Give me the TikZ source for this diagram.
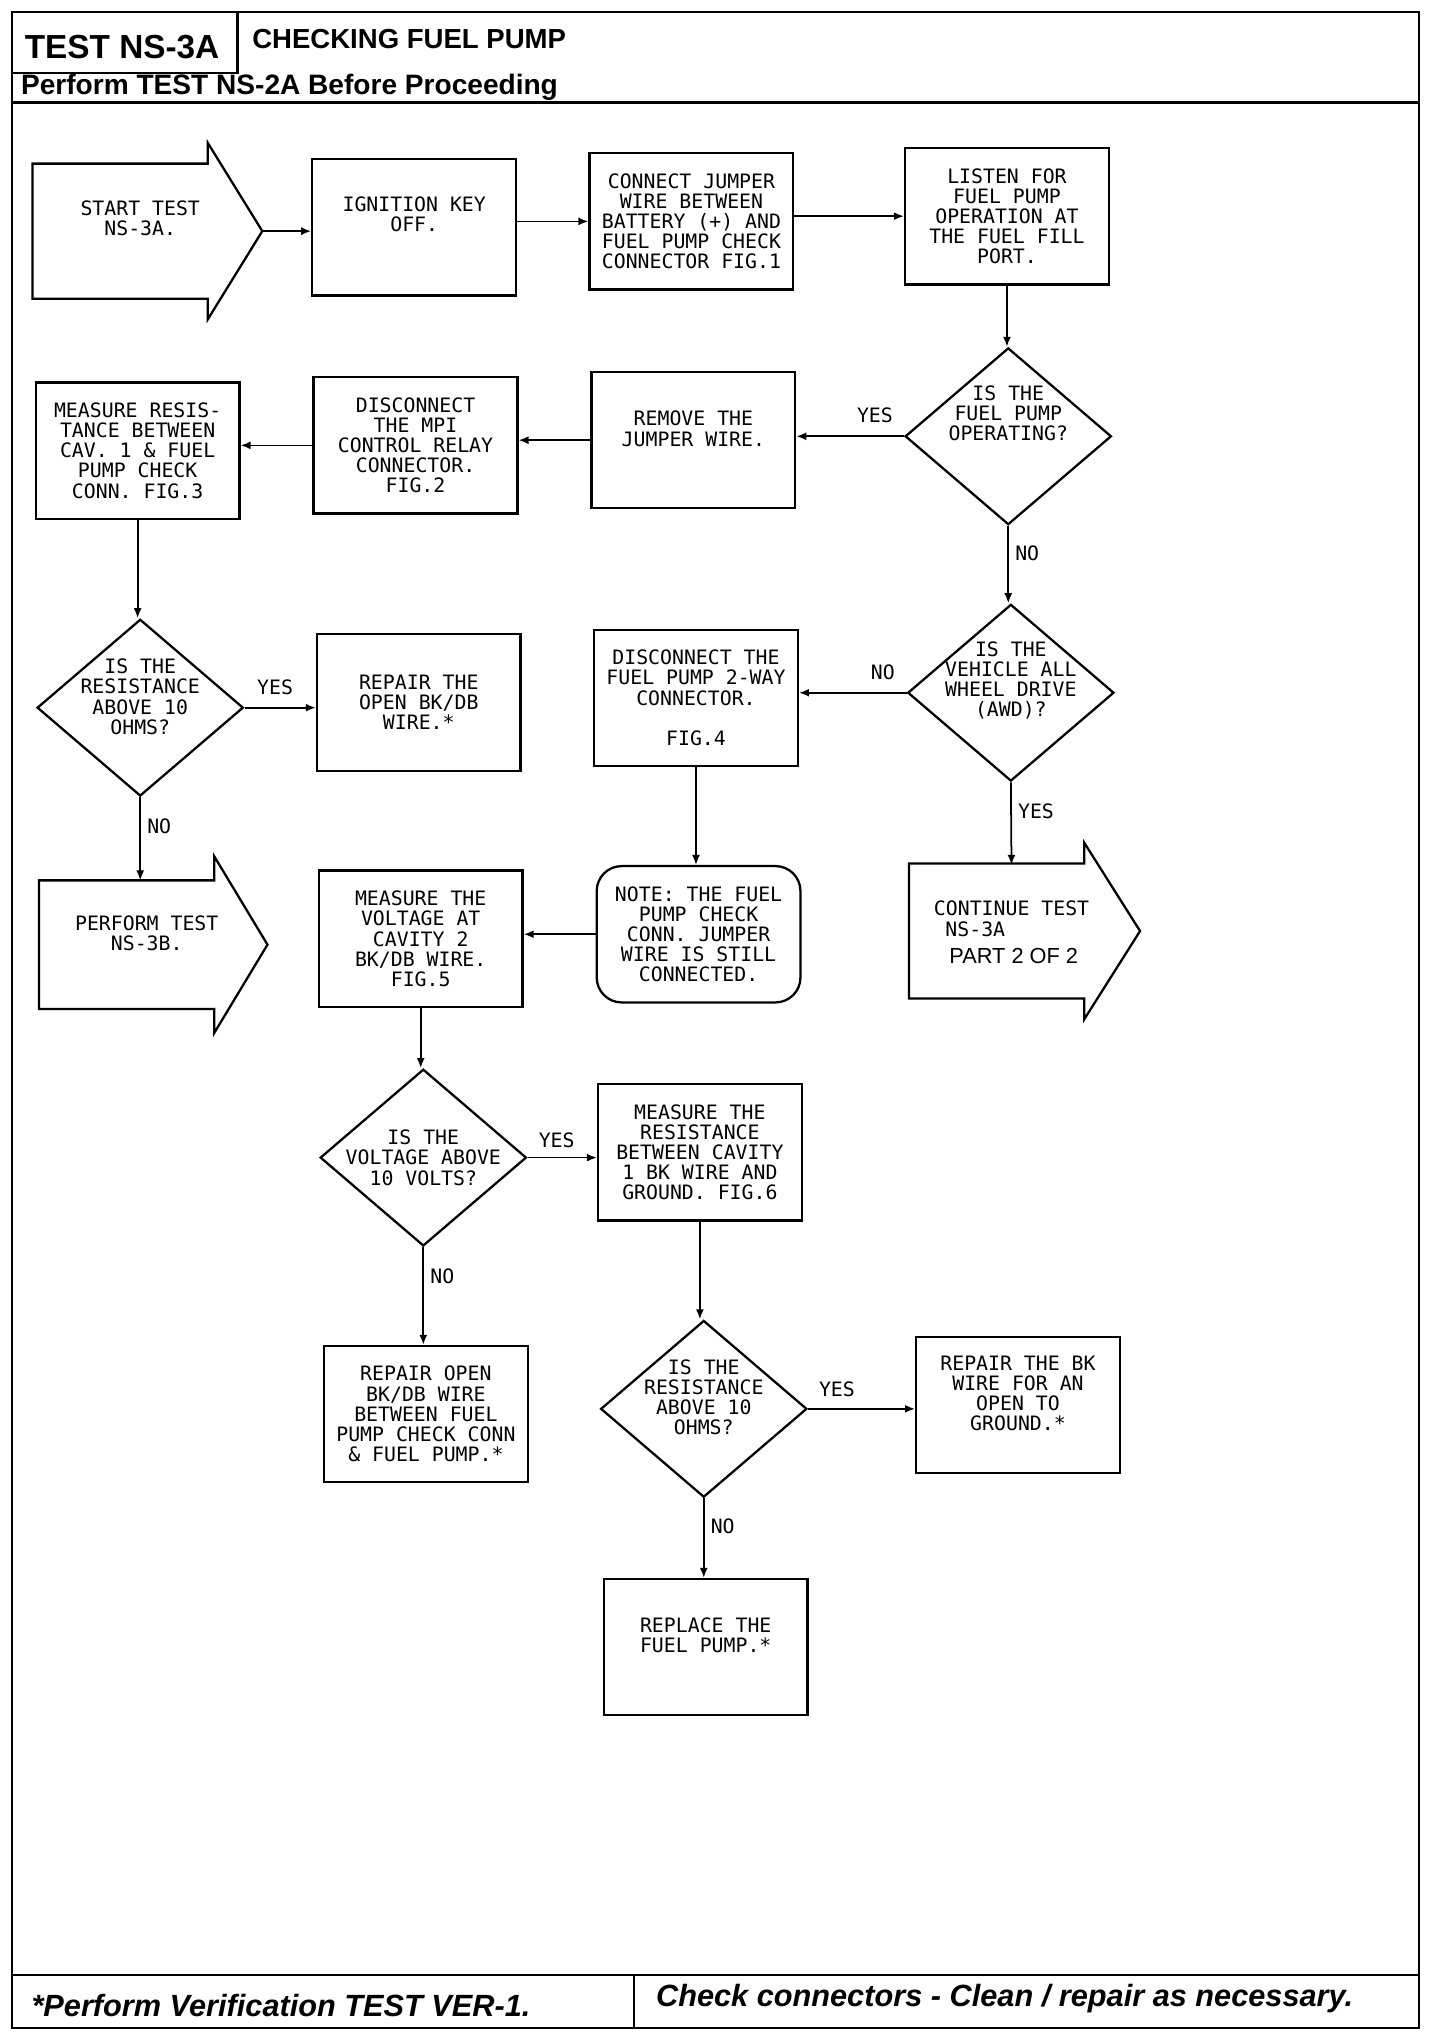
\documentclass[tikz,border=0pt]{standalone}
\usepackage{fontspec}
\setmainfont{Liberation Sans}
\newfontfamily\plotfont{DejaVu Sans Mono}
\usetikzlibrary{positioning,shapes.geometric,arrows.meta}

\begin{document}
\begin{tikzpicture}[
  x=0.026cm, y=-0.026cm,
  font=\plotfont\fontsize{11.3}{11.5}\selectfont,
  box/.style={draw,line width=1.3pt,minimum width=4.08cm,minimum height=2.73cm,align=center,inner sep=2pt},
  note/.style={box,rounded corners=0.5cm},
  decision/.style={draw,diamond,line width=1.3pt,minimum width=4.13cm,minimum height=3.54cm,inner sep=0pt},
  dtext/.style={align=center,inner sep=0pt},
  outline/.style={draw,line width=1.3pt,line join=miter},
  lbl/.style={inner sep=2pt},
  flow/.style={-{Latex[length=2mm,width=1.6mm]},line width=1pt},
  frame/.style={line width=1.3pt},
  head/.style={inner sep=0pt,font=\rmfamily\bfseries\fontsize{#1}{#1}\selectfont},
  foot/.style={inner sep=0pt,font=\rmfamily\bfseries\itshape\fontsize{17.5}{18}\selectfont}
]
\useasboundingbox (0,0) rectangle (1121,1568);

% page frame
\draw[frame] (9,9) rectangle (1093,1562);
\draw[frame] (9,56) -| (183,9);
\draw[frame] (9,79) -- (1093,79);
\draw[frame] (9,1521) -- (1093,1521);
\draw[frame] (488,1521) -- (488,1562);
\node[head=19,anchor=base] (testid) at (94,45) {TEST NS-3A};
\node[head=15.7,anchor=base west] (title) at (194,37.5) {CHECKING FUEL PUMP};
\node[head=16,anchor=base west] (pre) at (16,73) {Perform TEST NS-2A Before Proceeding};
\node[foot,anchor=base west] (verify) at (24,1553) {*Perform Verification TEST VER-1.};
\node[foot,anchor=base west] (clean) at (505,1545) {Check connectors - Clean / repair as necessary.};

% big arrows: start, perform NS-3B, continue
\foreach \xa/\xb/\xt/\yc/\hb in {25/160/202/178/52, 30/165/206/727.5/49.5, 700/835/878/717/52}
  \draw[outline] (\xa,\yc-\hb) -- (\xb,\yc-\hb) -- (\xb,\yc-68) -- (\xt,\yc)
    -- (\xb,\yc+68) -- (\xb,\yc+\hb) -- (\xa,\yc+\hb) -- cycle;
\node[align=center] (start) at (108,168) {START TEST\\NS-3A.};
\coordinate (start-tip) at (202,178);
\node[align=center] (perf) at (113,718.5) {PERFORM TEST\\NS-3B.};
\coordinate (perf-top) at (108,678);
\node[align=left,anchor=west,inner sep=0pt] (cont) at (719,718)
  {CONTINUE TEST\\\hspace{0.23cm}NS-3A\\[4pt]\hspace{0.31cm}{\rmfamily\fontsize{12.4}{14}\selectfont PART 2 OF 2}};
\coordinate (cont-top) at (779,666);

% boxes
\node[box,label={[dtext,yshift=0.26cm]center:{IGNITION KEY\\OFF.}}] (ign) at (319,175) {};
\node[box] (con) at (532.5,170.5) {CONNECT JUMPER\\WIRE BETWEEN\\BATTERY (+) AND\\FUEL PUMP CHECK\\CONNECTOR FIG.1};
\node[box] (lis) at (775.5,166.5) {LISTEN FOR\\FUEL PUMP\\OPERATION AT\\THE FUEL FILL\\PORT.};
\node[box,label={[dtext,yshift=0.23cm]center:{REMOVE THE\\JUMPER WIRE.}}] (rem) at (534,339) {};
\node[box] (mpi) at (320,343) {DISCONNECT\\THE MPI\\CONTROL RELAY\\CONNECTOR.\\FIG.2};
\node[box] (mres) at (106,347) {MEASURE RESIS-\\TANCE BETWEEN\\CAV. 1 \& FUEL\\PUMP CHECK\\CONN. FIG.3};
\node[box] (rep1) at (322.5,541) {REPAIR THE\\OPEN BK/DB\\WIRE.*};
\node[box] (dis2) at (536,537.5) {DISCONNECT THE\\FUEL PUMP 2-WAY\\CONNECTOR.\\[11.5pt]FIG.4};
\node[note] (note) at (538,719.5) {NOTE: THE FUEL\\PUMP CHECK\\CONN. JUMPER\\WIRE IS STILL\\CONNECTED.};
\node[box] (mvol) at (324,723) {MEASURE THE\\VOLTAGE AT\\CAVITY 2\\BK/DB WIRE.\\FIG.5};
\node[box] (mres2) at (539,887.5) {MEASURE THE\\RESISTANCE\\BETWEEN CAVITY\\1 BK WIRE AND\\GROUND. FIG.6};
\node[box] (rep2) at (328,1089) {REPAIR OPEN\\BK/DB WIRE\\BETWEEN FUEL\\PUMP CHECK CONN\\\& FUEL PUMP.*};
\node[box,label={[dtext,yshift=0.23cm]center:{REPAIR THE BK\\WIRE FOR AN\\OPEN TO\\GROUND.*}}] (rep3) at (784,1082) {};
\node[box,label={[dtext,yshift=0.23cm]center:{REPLACE THE\\FUEL PUMP.*}}] (repl) at (543.5,1268.5) {};

% decisions
\node[decision,label={[dtext,yshift=0.455cm]center:{IS THE\\FUEL PUMP\\OPERATING?}}] (q1) at (776.5,336) {};
\node[decision,label={[dtext,yshift=0.22cm]center:{IS THE\\RESISTANCE\\ABOVE 10\\OHMS?}}] (q3) at (108,545) {};
\node[decision,label={[dtext,yshift=0.25cm]center:{IS THE\\VEHICLE ALL\\WHEEL DRIVE\\(AWD)?}}] (q2) at (778.5,533.5) {};
\node[decision,label={[dtext]center:{IS THE\\VOLTAGE ABOVE\\10 VOLTS?}}] (q4) at (326,891.5) {};
\node[decision,label={[dtext,yshift=0.23cm]center:{IS THE\\RESISTANCE\\ABOVE 10\\OHMS?}}] (q5) at (542,1085) {};

% connectors
\draw[flow] (start-tip) -- (start-tip -| ign.west);
\draw[flow] (ign.east |- con) -- (con.west);
\draw[flow] (con.east |- lis) -- (lis.west);
\draw[flow] (lis.south) -- (lis.south |- q1.north);
\draw[flow] (q1.west) -- (q1.west -| rem.east) node[lbl,pos=0.27,above=0.18cm] {YES};
\draw[flow] (rem.west) -- (rem.west -| mpi.east);
\draw[flow] (mpi.west) -- (mpi.west -| mres.east);
\draw[flow] (mres.south) -- (mres.south |- q3.north);
\draw[flow] (q3.east) -- (q3.east -| rep1.west) node[lbl,pos=0.43,above=0.18cm] {YES};
\draw[flow] (q1.south) -- (q1.south |- q2.north) node[lbl,pos=0.35,right=1.5pt] {NO};
\draw[flow] (q2.west) -- (q2.west -| dis2.east) node[lbl,pos=0.22,above=0.18cm] {NO};
\draw[flow] (q3.south) -- (perf-top) node[lbl,pos=0.35,right=1.5pt] {NO};
\draw[flow] (q2.south) -- (cont-top) node[lbl,pos=0.35,right=1.5pt] {YES};
\draw[flow] (dis2.south) -- (dis2.south |- note.north);
\draw[flow] (note.west) -- (note.west -| mvol.east);
\draw[flow] (mvol.south) -- (mvol.south |- q4.north);
\draw[flow] (q4.east) -- (q4.east -| mres2.west) node[lbl,pos=0.42,above=0.1cm] {YES};
\draw[flow] (q4.south) -- (q4.south |- rep2.north) node[lbl,pos=0.3,right=1.5pt] {NO};
\draw[flow] (mres2.south) -- (mres2.south |- q5.north);
\draw[flow] (q5.east) -- (q5.east -| rep3.west) node[lbl,pos=0.27,above=0.15cm] {YES};
\draw[flow] (q5.south) -- (q5.south |- repl.north) node[lbl,pos=0.35,right=1.5pt] {NO};
\end{tikzpicture}
\end{document}
